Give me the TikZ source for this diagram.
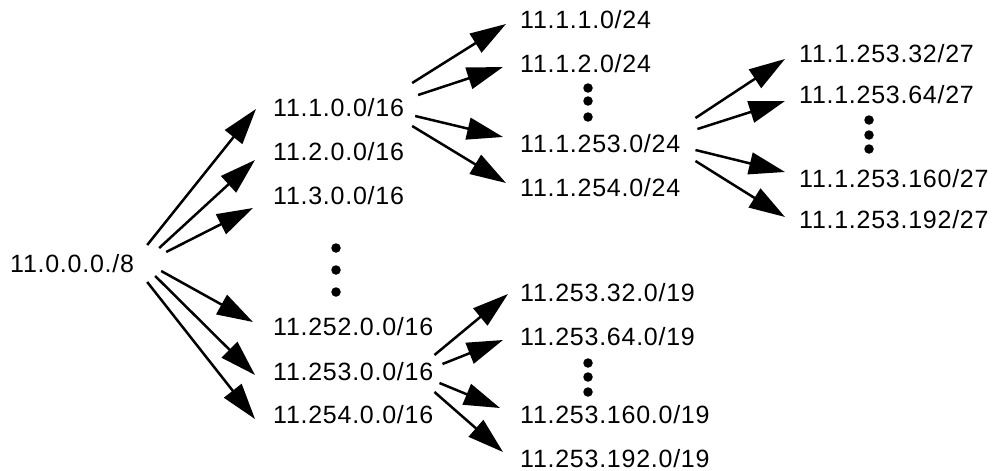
\documentclass[tikz,border=0pt]{standalone}
\usepackage{fontspec}
\setmainfont[LetterSpace=3]{Liberation Sans}
\usetikzlibrary{arrows.meta}
\begin{document}
\begin{tikzpicture}[x=1pt,y=-1pt,
net/.style={
% plain text, no frame:
inner sep=0pt,
anchor=base west,
font=\fontsize{25}{29}\selectfont
},
fan/.style={-{Triangle[length=36pt,width=22pt]},line width=2.5pt},
dot/.style={circle,fill=black,inner sep=0pt,minimum size=9.5pt}
]
\useasboundingbox (0,0) rectangle (996,471);
% root and the /16 column
\node (root) [net] at (10,272) {11.0.0.0./8};
\node (a1) [net] at (273,116) {11.1.0.0/16};
\node (a2) [net] at (273,160) {11.2.0.0/16};
\node (a3) [net] at (273,204) {11.3.0.0/16};
\node (a252) [net] at (273,335) {11.252.0.0/16};
\node (a253) [net] at (273,380) {11.253.0.0/16};
\node (a254) [net] at (273,423) {11.254.0.0/16};
% /24 under 11.1.0.0
\node (b1) [net] at (520,28) {11.1.1.0/24};
\node (b2) [net] at (520,72) {11.1.2.0/24};
\node (b253) [net] at (520,152) {11.1.253.0/24};
\node (b254) [net] at (520,196) {11.1.254.0/24};
% /27 under 11.1.253.0
\node (c32) [net] at (799,62) {11.1.253.32/27};
\node (c64) [net] at (799,103) {11.1.253.64/27};
\node (c160) [net] at (799,187) {11.1.253.160/27};
\node (c192) [net] at (799,228) {11.1.253.192/27};
% /19 under 11.253.0.0
\node (d32) [net] at (520,301) {11.253.32.0/19};
\node (d64) [net] at (520,345) {11.253.64.0/19};
\node (d160) [net] at (520,423) {11.253.160.0/19};
\node (d192) [net] at (520,467) {11.253.192.0/19};
% dots
\foreach \y [count=\i] in {248,270,292} \node (ga\i) [dot] at (336,\y) {};
\foreach \y [count=\i] in {88,101,117} \node (gb\i) [dot] at (588,\y) {};
\foreach \y [count=\i] in {120,135,149} \node (gc\i) [dot] at (869,\y) {};
\foreach \y [count=\i] in {363,377,392} \node (gd\i) [dot] at (588,\y) {};
% arrows
\draw [fan] ([shift={(13,-27)}]root.base east) -- ([shift={(-17,-7)}]a1.base west);
\draw [fan] ([shift={(25,-24)}]root.base east) -- ([shift={(-18,0)}]a2.base west);
\draw [fan] ([shift={(32,-20)}]root.base east) -- ([shift={(-20,4)}]a3.base west);
\draw [fan] ([shift={(27,-1)}]root.base east) -- ([shift={(-20,-13)}]a252.base west);
\draw [fan] ([shift={(21,4)}]root.base east) -- ([shift={(-18,-5)}]a253.base west);
\draw [fan] ([shift={(13,10)}]root.base east) -- ([shift={(-18,-4)}]a254.base west);
\draw [fan] ([shift={(8,-33)}]a1.base east) -- ([shift={(-14,-4)}]b1.base west);
\draw [fan] ([shift={(14,-21)}]a1.base east) -- ([shift={(-17,-5)}]b2.base west);
\draw [fan] ([shift={(11,0)}]a1.base east) -- ([shift={(-17,-15)}]b253.base west);
\draw [fan] ([shift={(8,10)}]a1.base east) -- ([shift={(-14,-13)}]b254.base west);
\draw [fan] ([shift={(15,-34)}]b253.base east) -- ([shift={(-14,-3)}]c32.base west);
\draw [fan] ([shift={(17,-23)}]b253.base east) -- ([shift={(-14,-2)}]c64.base west);
\draw [fan] ([shift={(15,-2)}]b253.base east) -- ([shift={(-14,-15)}]c160.base west);
\draw [fan] ([shift={(15,9)}]b253.base east) -- ([shift={(-14,-11)}]c192.base west);
\draw [fan] ([shift={(1,-25)}]a253.base east) -- ([shift={(-12,-7)}]d32.base west);
\draw [fan] ([shift={(9,-16)}]a253.base east) -- ([shift={(-17,-5)}]d64.base west);
\draw [fan] ([shift={(6,3)}]a253.base east) -- ([shift={(-20,-15)}]d160.base west);
\draw [fan] ([shift={(1,12)}]a253.base east) -- ([shift={(-17,-15)}]d192.base west);
\end{tikzpicture}
\end{document}
